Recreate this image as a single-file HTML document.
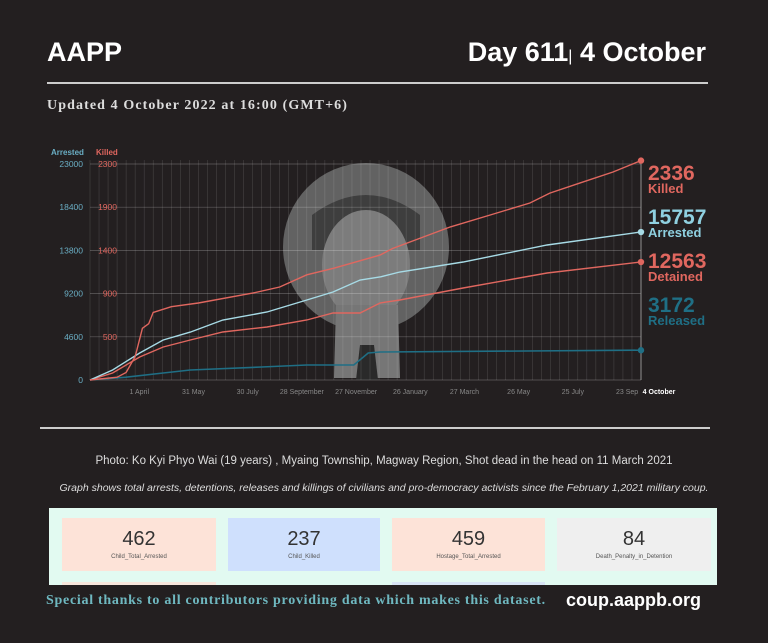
<!DOCTYPE html>
<html><head><meta charset="utf-8">
<style>
body{margin:0;width:768px;height:643px;background:#231f20;overflow:hidden;font-family:"Liberation Sans",sans-serif;position:relative}
.abs{position:absolute}
.card{position:absolute;top:518px;height:53px;width:154px;text-align:center;color:#333}
.card .v{font-size:20px;margin-top:10px}
.card .l{font-size:6px;color:#555;margin-top:3px}
</style></head><body>
<div class="abs" style="left:47px;top:37px;color:#fff;font-weight:bold;font-size:27px">AAPP</div>
<div class="abs" style="right:62px;top:37px;color:#fff;font-weight:bold;font-size:27px;white-space:nowrap">Day 611<span style="font-size:16px;font-weight:normal">|</span> 4 October</div>
<div class="abs" style="left:47px;top:82px;width:661px;height:2px;background:#ccc"></div>
<div class="abs" style="left:47px;top:98px;color:#ddd;font-family:'Liberation Serif',serif;font-weight:bold;font-size:14px;letter-spacing:1.1px">Updated 4 October 2022 at 16:00 (GMT+6)</div>

<svg class="abs" style="left:0;top:0" width="768" height="430">
<g>
<ellipse cx="366" cy="247" rx="83" ry="84" fill="#626262"/>
<path d="M312 215 Q366 175 420 215 L420 250 L312 250 Z" fill="#3e3e3e"/>
<ellipse cx="366" cy="265" rx="44" ry="55" fill="#7c7c7c"/>
<path d="M336 305 L398 305 L400 378 L334 378 Z" fill="#767676"/>
<path d="M360 345 L374 345 L378 380 L356 380 Z" fill="#2a2a2a"/>
</g>
<g id="grid"></g>
<g id="axes"></g>
<g id="lines"></g>
</svg>

<div class="abs" style="left:40px;top:427px;width:670px;height:2px;background:#ccc"></div>
<div class="abs" style="left:0;width:768px;top:455px;text-align:center;color:#ddd;font-size:11.5px">Photo: Ko Kyi Phyo Wai (19 years) , Myaing Township, Magway Region, Shot dead in the head on 11 March 2021</div>
<div class="abs" style="left:0;width:768px;top:482px;text-align:center;color:#ddd;font-size:10.5px;font-style:italic">Graph shows total arrests, detentions, releases and killings of civilians and pro-democracy activists since the February 1,2021 military coup.</div>

<div class="abs" style="left:49px;top:508px;width:668px;height:77px;background:#e2faf1"></div>
<div class="abs" style="left:62px;top:582px;width:154px;height:3px;background:#f7e6dc"></div>
<div class="abs" style="left:392px;top:582px;width:153px;height:3px;background:#d8e4f5"></div>
<div class="card" style="left:62px;background:#fde3d8"><div class="v">462</div><div class="l">Child_Total_Arrested</div></div>
<div class="card" style="left:228px;width:152px;background:#cfe0fd"><div class="v">237</div><div class="l">Child_Killed</div></div>
<div class="card" style="left:392px;width:153px;background:#fde3d8"><div class="v">459</div><div class="l">Hostage_Total_Arrested</div></div>
<div class="card" style="left:557px;background:#efefef"><div class="v">84</div><div class="l">Death_Penalty_in_Detention</div></div>
<div class="abs" style="left:46px;top:593px;color:#6fb8c0;font-family:'Liberation Serif',serif;font-weight:bold;font-size:14px;letter-spacing:0.72px">Special thanks to all contributors providing data which makes this dataset.</div>
<div class="abs" style="left:566px;top:590px;color:#fff;font-weight:bold;font-size:18px">coup.aappb.org</div>

<script>
const arrestedTicks=[0,4600,9200,13800,18400,23000];
const killedTicks=[0,500,900,1400,1900,2300];
const xLabels=["1 April","31 May","30 July","28 September","27 November","26 January","27 March","26 May","25 July","23 Sep","4 October"];
const xLabelDays=[59,119,179,239,299,359,419,479,539,599,610];
const killedDays=[0,30,40,50,58,65,70,90,120,180,210,240,270,321,335,399,443,487,509,543,579,610];
const killedVals=[0,30,80,250,550,600,720,780,820,925,990,1120,1190,1330,1400,1630,1757,1885,1990,2100,2215,2336];
const arrestedDays=[0,25,55,81,111,147,196,240,269,299,321,343,413,506,610];
const arrestedVals=[0,1065,2870,4260,5100,6390,7240,8520,9370,10650,10970,11500,12560,14370,15757];
const detainedDays=[0,25,55,81,111,147,196,240,269,299,321,343,413,506,610];
const detainedVals=[0,745,2450,3510,4260,5110,5640,6390,7130,7130,8200,8520,9800,11390,12563];
const releasedDays=[0,40,81,111,190,240,292,308,321,610];
const releasedVals=[0,300,745,1060,1380,1600,1600,2870,2980,3172];
const X0=90,X1=641,Y0=380,Y1=164,D=610;
const x=d=>X0+(X1-X0)*d/D;
const yA=v=>Y0-(Y0-Y1)*v/23000;
const yK=v=>Y0-(Y0-Y1)*v/2300;
const NS="http://www.w3.org/2000/svg";
function mk(t,a,p){const e=document.createElementNS(NS,t);for(const k in a)e.setAttribute(k,a[k]);p.appendChild(e);return e;}
const grid=document.getElementById('grid'),axes=document.getElementById('axes'),lines=document.getElementById('lines');
for(let d=0;d<=D;d+=10){const l=mk('line',{x1:x(d),x2:x(d),y1:Y1-4,y2:Y0,stroke:'#fff','stroke-opacity':0.16,'stroke-width':0.6},grid);

}
arrestedTicks.forEach((v,i)=>{const l=mk('line',{x1:X0,x2:X1,y1:yA(v),y2:yA(v),stroke:'#fff','stroke-opacity':0.28,'stroke-width':0.7},grid);


const t=mk('text',{x:83,y:yA(v)+3,'text-anchor':'end','font-size':8.5,fill:'#6aaec4'},axes);t.textContent=v;


if(v>0){const k=mk('text',{x:117,y:yA(v)+3,'text-anchor':'end','font-size':8.5,fill:'#e0675f'},axes);k.textContent=killedTicks[i];

}});
const ah=mk('text',{x:51,y:155,'font-size':8,fill:'#6aaec4','font-weight':'bold'},axes);ah.textContent='Arrested';


const kh=mk('text',{x:96,y:155,'font-size':8,fill:'#e0675f','font-weight':'bold'},axes);kh.textContent='Killed';


xLabels.forEach((s,i)=>{const last=i==xLabels.length-1;const t=mk('text',{x:last?x(xLabelDays[i])+18:x(xLabelDays[i])-4,y:394,'text-anchor':'middle','font-size':7,fill:last?'#fff':'#888','font-weight':last?'bold':'normal'},axes);t.textContent=s;

});
mk('line',{x1:X1,x2:X1,y1:Y1,y2:Y0,stroke:'#aaa','stroke-width':0.8},axes);
function series(days,vals,yf,color,name,w){const p=days.map((d,i)=>x(d).toFixed(1)+','+yf(vals[i]).toFixed(1)).join(' ');
const pl=mk('polyline',{points:p,fill:'none',stroke:color,'stroke-width':w},lines);


const c=mk('circle',{cx:x(days[days.length-1]),cy:yf(vals[vals.length-1]),r:3.2,fill:color},lines);

}
series(releasedDays,releasedVals,yA,'#1f6f85','released',1.6);
series(detainedDays,detainedVals,yA,'#e0675f','detained',1.4);
series(arrestedDays,arrestedVals,yA,'#a7dbe6','arrested',1.4);
series(killedDays,killedVals,yK,'#e0675f','killed',1.4);
const labs=[[killedVals[killedVals.length-1],'Killed','#e0675f',180],[arrestedVals[arrestedVals.length-1],'Arrested','#8fd0e0',224],[detainedVals[detainedVals.length-1],'Detained','#e0675f',268],[releasedVals[releasedVals.length-1],'Released','#1f6f85',312]];
labs.forEach(([v,n,c,y])=>{const t=mk('text',{x:648,y:y,'font-size':21,'font-weight':'bold',fill:c},axes);t.textContent=v;


const u=mk('text',{x:648,y:y+13,'font-size':13,'font-weight':'bold',fill:c},axes);u.textContent=n;

});
</script>
</body></html>
